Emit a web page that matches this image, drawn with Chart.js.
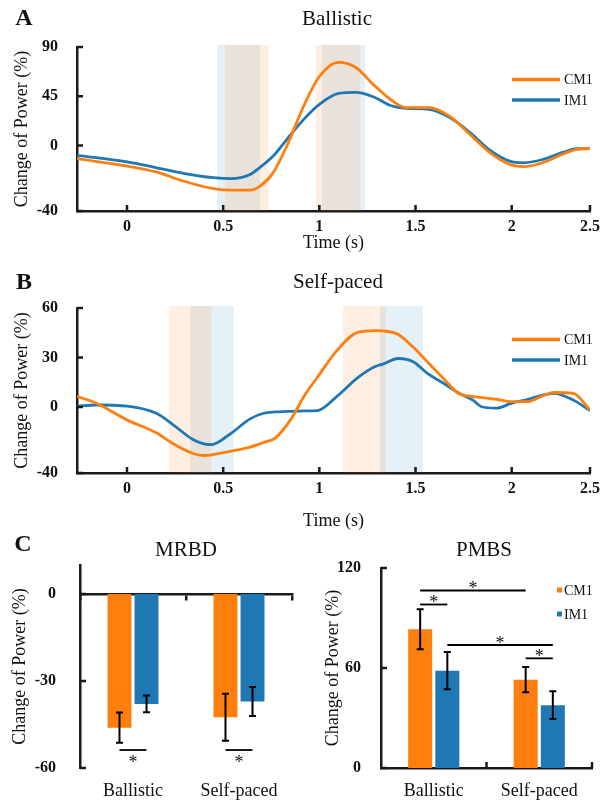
<!DOCTYPE html>
<html>
<head>
<meta charset="utf-8">
<script src="https://cdn.jsdelivr.net/npm/chart.js@4.4.1/dist/chart.umd.min.js"></script>
<style>
  body { margin: 0; background: #fff; }
  #wrap { position: relative; width: 600px; height: 802px; }
  canvas { position: absolute; }
</style>
</head>
<body>
<div id="wrap">
  <canvas id="panelA" width="600" height="255" style="left:0;top:0"></canvas>
  <canvas id="panelB" width="600" height="280" style="left:0;top:255px"></canvas>
  <canvas id="panelC1" width="300" height="282" style="left:0;top:520px"></canvas>
  <canvas id="panelC2" width="300" height="282" style="left:300px;top:520px"></canvas>
</div>
<script>
// ---- data ----
// A: ballistic, change of power (%) over time (s)
var timeA = [-0.26, 0, 0.15, 0.3, 0.45, 0.54, 0.64, 0.69, 0.76, 0.83, 0.92, 1.0, 1.1, 1.19, 1.28, 1.37, 1.45, 1.57, 1.68, 1.78, 1.89, 1.99, 2.06, 2.16, 2.27, 2.34, 2.407];
var cm1A = [-8.1, -12.6, -16.2, -22, -26.3, -27.3, -27.3, -25, -16.6, -0.6, 36.5, 63, 76, 71.3, 55.8, 42, 34.6, 34.5, 26.3, 10.5, -4.7, -11.6, -13, -10.6, -5.1, -2.4, -2];
var im1A = [-6.1, -10, -13.5, -17.2, -19.7, -20.3, -17.7, -13.5, -6.5, 5.3, 24, 37.5, 47.5, 48.5, 44.5, 36.5, 33.9, 33, 25.3, 12.2, -3.2, -9.6, -10.6, -8.6, -4.1, -2, -2];
var bandsCM1A = [[0.51, 0.735], [0.981, 1.212]];
var bandsIM1A = [[0.467, 0.692], [1.012, 1.238]];

// B: self-paced
var timeB = [-0.26, -0.16, 0, 0.155, 0.24, 0.34, 0.4, 0.44, 0.53, 0.64, 0.71, 0.77, 0.85, 0.93, 0.99, 1.09, 1.2, 1.29, 1.33, 1.41, 1.49, 1.56, 1.66, 1.72, 1.8, 1.84, 1.92, 2.0, 2.08, 2.16, 2.22, 2.32, 2.407];
var cm1B = [6.5, 2.3, -7.8, -15.8, -22.3, -28, -29.4, -29, -27, -24.3, -21.5, -18.9, -7.8, 8.3, 18, 34, 45.3, 46.3, 46.1, 44, 36, 27.5, 15.5, 8.5, 6.3, 5.8, 4.7, 3.2, 3.2, 6.7, 8.8, 8.3, -1.8];
var im1B = [0.5, 1.2, 0.5, -4, -10.8, -19.5, -22.3, -22.8, -16.9, -7.2, -3.8, -3, -2.6, -2.4, -2.2, 6.3, 17.8, 24.5, 26, 29.4, 27.3, 20.5, 13.3, 8.8, 4, 0.3, -0.7, 2.3, 4.5, 7.2, 8.3, 4.3, -2.2];
var bandsCM1B = [[0.217, 0.439], [1.123, 1.345]];
var bandsIM1B = [[0.33, 0.554], [1.316, 1.538]];

var timeTicks = [0, 0.5, 1, 1.5, 2, 2.407];
var timeTickLabels = ['0', '0.5', '1', '1.5', '2', '2.5'];
var yTicksA = [-40, 0, 45, 90];
var yTicksB = [-40, 0, 30, 60];

// C: bar summaries
var groups = ['Ballistic', 'Self-paced'];
var mrbdCM1 = [-46.1, -42.5];
var mrbdCM1Err = [5.2, 8.1];
var mrbdIM1 = [-37.9, -37.1];
var mrbdIM1Err = [2.9, 5];
var pmbsCM1 = [83.3, 53];
var pmbsCM1Err = [12, 7.6];
var pmbsIM1 = [58.4, 37.7];
var pmbsIM1Err = [11.2, 8.3];
var yTicksMRBD = [-60, -30, 0];
var yTicksPMBS = [0, 60, 120];
// significance: [group, dataset] -> [group, dataset] at level
var sigMRBD = [{a: [0, 0], b: [0, 1], level: -53.8}, {a: [1, 0], b: [1, 1], level: -53.8}];
var sigPMBS = [
  {a: [0, 0], b: [1, 0], level: 106.5},
  {a: [0, 0], b: [0, 1], level: 98.1},
  {a: [0, 1], b: [1, 1], level: 73.8},
  {a: [1, 0], b: [1, 1], level: 65.8}
];

var ORANGE = '#ff7f0e';
var BLUE = '#1f77b4';
var AXIS = '#1a1a1a';
var SERIF = '"Liberation Serif", "Times New Roman", serif';

Chart.defaults.font.family = SERIF;
Chart.defaults.color = '#111';
Chart.defaults.animation = false;
Chart.defaults.events = [];
Chart.defaults.plugins.legend.display = false;
Chart.defaults.plugins.tooltip.enabled = false;

// panel A's y axis puts 0 at 40% of the height even though it runs -40..90
var ZERO_AT = 0.4;
class SplitScale extends Chart.LinearScale {
  getPixelForValue(value) {
    if (value === null || value === undefined || isNaN(value)) return NaN;
    var dec;
    if (value < 0) dec = ZERO_AT * (value - this.min) / (0 - this.min);
    else dec = ZERO_AT + (1 - ZERO_AT) * value / this.max;
    return this.getPixelForDecimal(dec);
  }
}
SplitScale.id = 'split';
SplitScale.defaults = Chart.LinearScale.defaults;
Chart.register(SplitScale);

// shaded windows behind the lines
var bandPlugin = {
  id: 'bands',
  beforeDatasetsDraw(chart, args, opts) {
    var ctx = chart.ctx, x = chart.scales.x, area = chart.chartArea;
    ctx.save();
    (opts.list || []).forEach(function (b) {
      var x1 = x.getPixelForValue(b[0]), x2 = x.getPixelForValue(b[1]);
      ctx.fillStyle = b[2];
      ctx.fillRect(x1, area.top - 2, x2 - x1, area.bottom - area.top + 2);
    });
    ctx.restore();
  }
};

// small tick marks pointing into the plot
var innerTickPlugin = {
  id: 'innerTicks',
  afterDraw(chart, args, opts) {
    var ctx = chart.ctx, area = chart.chartArea, len = opts.len || 6;
    var xs = chart.scales.x, ys = chart.scales.y;
    ctx.save();
    ctx.strokeStyle = AXIS;
    ctx.lineWidth = 2.5;
    ctx.beginPath();
    if (opts.y) {
      ys.ticks.forEach(function (t) {
        var py = ys.getPixelForValue(t.value);
        ctx.moveTo(area.left, py); ctx.lineTo(area.left + len, py);
      });
    }
    if (opts.x === 'ticks') {
      xs.ticks.forEach(function (t) {
        var px = xs.getPixelForValue(t.value);
        ctx.moveTo(px, area.bottom); ctx.lineTo(px, area.bottom - len);
      });
    } else if (opts.x === 'groups') {
      var n = xs.getLabels().length;
      for (var k = 1; k <= n; k++) {
        var px = xs.left + k * xs.width / n;
        ctx.moveTo(px, area.bottom); ctx.lineTo(px, area.bottom - len);
      }
    }
    ctx.stroke();
    ctx.restore();
  }
};

// panel letter, title and legend
var decorPlugin = {
  id: 'decor',
  afterDraw(chart, args, opts) {
    var ctx = chart.ctx;
    ctx.save();
    ctx.textBaseline = 'middle';
    ctx.fillStyle = '#111';
    if (opts.letter) {
      ctx.font = 'bold 24px ' + SERIF;
      ctx.textAlign = 'center';
      ctx.fillText(opts.letter[0], opts.letter[1], opts.letter[2]);
    }
    if (opts.title) {
      ctx.font = '21px ' + SERIF;
      ctx.textAlign = 'center';
      ctx.fillText(opts.title[0], opts.title[1], opts.title[2]);
    }
    var lg = opts.legend;
    if (lg) {
      chart.data.datasets.forEach(function (ds, i) {
        var y = lg.y + i * lg.gap, tx;
        if (lg.kind === 'line') {
          ctx.strokeStyle = ds.borderColor;
          ctx.lineWidth = 3.5;
          ctx.beginPath(); ctx.moveTo(lg.x, y); ctx.lineTo(lg.x + lg.len, y); ctx.stroke();
          tx = lg.x + lg.len + 4;
        } else {
          ctx.fillStyle = ds.backgroundColor;
          ctx.fillRect(lg.x, y - lg.len / 2, lg.len, lg.len);
          tx = lg.x + lg.len + 2;
        }
        ctx.fillStyle = '#111';
        ctx.font = '14px ' + SERIF;
        ctx.textAlign = 'left';
        ctx.fillText(ds.label, tx, y + 1);
      });
    }
    ctx.restore();
  }
};

// error bars and significance brackets for the bar panels
var statsPlugin = {
  id: 'stats',
  afterDatasetsDraw(chart, args, opts) {
    var ctx = chart.ctx, ys = chart.scales.y;
    ctx.save();
    ctx.strokeStyle = '#000';
    ctx.lineWidth = 2;
    chart.data.datasets.forEach(function (ds, i) {
      var meta = chart.getDatasetMeta(i);
      ds.data.forEach(function (v, j) {
        var e = opts.errors[i][j], x = meta.data[j].x;
        var y1 = ys.getPixelForValue(v + e), y2 = ys.getPixelForValue(v - e);
        ctx.beginPath();
        ctx.moveTo(x, y1); ctx.lineTo(x, y2);
        ctx.moveTo(x - 3.5, y1); ctx.lineTo(x + 3.5, y1);
        ctx.moveTo(x - 3.5, y2); ctx.lineTo(x + 3.5, y2);
        ctx.stroke();
      });
    });
    ctx.lineWidth = 1.8;
    ctx.fillStyle = '#111';
    ctx.font = '18px ' + SERIF;
    ctx.textAlign = 'center';
    ctx.textBaseline = 'alphabetic';
    opts.sig.forEach(function (s) {
      var xa = chart.getDatasetMeta(s.a[1]).data[s.a[0]].x;
      var xb = chart.getDatasetMeta(s.b[1]).data[s.b[0]].x;
      var y = ys.getPixelForValue(s.level);
      ctx.beginPath(); ctx.moveTo(xa, y); ctx.lineTo(xb, y); ctx.stroke();
      ctx.fillText('*', (xa + xb) / 2, opts.starBelow ? y + 17.5 : y + 3.5);
    });
    ctx.restore();
  }
};

function bandList(cm, im) {
  var list = [];
  im.forEach(function (b) { list.push([b[0], b[1], 'rgba(31,119,180,0.11)']); });
  cm.forEach(function (b) { list.push([b[0], b[1], 'rgba(255,127,14,0.12)']); });
  return list;
}

function linePanel(id, o) {
  return new Chart(document.getElementById(id), {
    type: 'line',
    data: {
      datasets: [
        { label: 'CM1', borderColor: ORANGE, data: o.time.map(function (t, i) { return {x: t, y: o.cm1[i]}; }) },
        { label: 'IM1', borderColor: BLUE, data: o.time.map(function (t, i) { return {x: t, y: o.im1[i]}; }) }
      ]
    },
    options: {
      responsive: false,
      layout: { padding: { top: o.top, right: 10, left: 0, bottom: 0 } },
      elements: {
        point: { radius: 0 },
        line: { borderWidth: 2.8, cubicInterpolationMode: 'monotone', fill: false }
      },
      scales: {
        x: {
          type: 'linear', min: -0.26, max: 2.407,
          afterBuildTicks: function (s) { s.ticks = timeTicks.map(function (v) { return {value: v}; }); },
          afterFit: function (s) { s.height = o.xHeight; },
          grid: { display: false },
          border: { display: true, color: AXIS, width: 2.5 },
          ticks: {
            autoSkip: false, maxRotation: 0, padding: -2,
            font: { size: 16, weight: 'bold' },
            callback: function (v, i) { return timeTickLabels[i]; }
          },
          title: { display: true, text: 'Time (s)', font: { size: 18 }, padding: { top: 0, bottom: o.titlePad } }
        },
        y: {
          type: o.yType, min: o.yTicks[0], max: o.yTicks[o.yTicks.length - 1],
          afterBuildTicks: function (s) { s.ticks = o.yTicks.map(function (v) { return {value: v}; }); },
          afterFit: function (s) { s.width = 77; },
          grid: { display: false },
          border: { display: true, color: AXIS, width: 2.5 },
          ticks: { padding: 11, font: { size: 16, weight: 'bold' } },
          title: { display: true, text: 'Change of Power (%)', font: { size: 18 }, padding: { top: 11 } }
        }
      },
      plugins: {
        bands: { list: bandList(o.bandsCM1, o.bandsIM1) },
        innerTicks: { x: 'ticks', y: true, len: 6 },
        decor: { letter: o.letter, title: o.title, legend: { kind: 'line', x: 512, y: o.legendY, gap: 20.5, len: 48 } }
      }
    },
    plugins: [bandPlugin, innerTickPlugin, decorPlugin]
  });
}

linePanel('panelA', {
  time: timeA, cm1: cm1A, im1: im1A, bandsCM1: bandsCM1A, bandsIM1: bandsIM1A,
  yType: 'split', yTicks: yTicksA, top: 47, xHeight: 44, titlePad: 1,
  letter: ['A', 24, 19], title: ['Ballistic', 337, 19], legendY: 79.5
});

linePanel('panelB', {
  time: timeB, cm1: cm1B, im1: im1B, bandsCM1: bandsCM1B, bandsIM1: bandsIM1B,
  yType: 'linear', yTicks: yTicksB, top: 53, xHeight: 62, titlePad: 3,
  letter: ['B', 24, 28], title: ['Self-paced', 338, 27.5], legendY: 84.5
});

function barPanel(id, o) {
  var scales = {
    x: {
      type: 'category', offset: true,
      grid: { display: false, offset: true },
      border: { display: o.bottomBorder, color: AXIS, width: 2.5 },
      ticks: { padding: 4, font: { size: 18 } },
      afterFit: function (s) { s.height = 34; }
    },
    y: {
      min: o.yMin, max: o.yMax,
      afterBuildTicks: function (s) { s.ticks = o.yTicks.map(function (v) { return {value: v}; }); },
      afterFit: function (s) { s.width = o.yWidth; },
      grid: { display: false },
      border: { display: true, color: AXIS, width: 2.5 },
      ticks: { padding: o.tickPad, font: { size: 16, weight: 'bold' } },
      title: { display: true, text: 'Change of Power (%)', font: { size: 18 }, padding: { top: o.titlePad } }
    }
  };
  if (o.zeroAxis) {
    scales.x2 = {
      type: 'category', axis: 'x', position: { y: 0 }, offset: true,
      grid: { display: true, offset: true, drawOnChartArea: false, drawTicks: true, tickLength: 5, color: AXIS, lineWidth: 2.5 },
      border: { display: true, color: AXIS, width: 2.5 },
      ticks: { display: false }
    };
  }
  return new Chart(document.getElementById(id), {
    type: 'bar',
    data: {
      labels: groups,
      datasets: [
        { label: 'CM1', data: o.cm1, backgroundColor: ORANGE, borderWidth: 0, categoryPercentage: o.catPct, barPercentage: 0.885 },
        { label: 'IM1', data: o.im1, backgroundColor: BLUE, borderWidth: 0, categoryPercentage: o.catPct, barPercentage: 0.885 }
      ]
    },
    options: {
      responsive: false,
      layout: { padding: { top: o.top, right: 8, left: 0, bottom: 0 } },
      scales: scales,
      plugins: {
        innerTicks: { x: o.zeroAxis ? 'none' : 'groups', y: true, len: 6 },
        stats: { errors: o.errors, sig: o.sig, starBelow: o.starBelow },
        decor: { letter: o.letter, title: o.title, legend: o.legend }
      }
    },
    plugins: [innerTickPlugin, statsPlugin, decorPlugin]
  });
}

barPanel('panelC1', {
  cm1: mrbdCM1, im1: mrbdIM1, errors: [mrbdCM1Err, mrbdIM1Err], sig: sigMRBD, starBelow: true,
  yMin: -60, yMax: 10, yTicks: yTicksMRBD, yWidth: 80, tickPad: 16, titlePad: 9, top: 45,
  catPct: 0.51, zeroAxis: true, bottomBorder: false,
  letter: ['C', 23, 25], title: ['MRBD', 186, 30], legend: null
});

barPanel('panelC2', {
  cm1: pmbsCM1, im1: pmbsIM1, errors: [pmbsCM1Err, pmbsIM1Err], sig: sigPMBS, starBelow: false,
  yMin: 0, yMax: 120, yTicks: yTicksPMBS, yWidth: 81, tickPad: 12, titlePad: 22, top: 48,
  catPct: 0.515, zeroAxis: false, bottomBorder: true,
  letter: null, title: ['PMBS', 184, 30],
  legend: { kind: 'box', x: 257, y: 70, gap: 24, len: 5 }
});
</script>
</body>
</html>
